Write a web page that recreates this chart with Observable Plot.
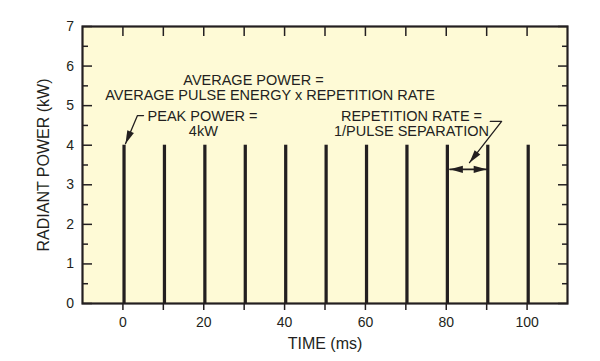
<!DOCTYPE html>
<html><head><meta charset="utf-8">
<script src="https://cdn.jsdelivr.net/npm/d3@7"></script>
<script src="https://cdn.jsdelivr.net/npm/@observablehq/plot@0.6"></script>
<style>html,body{margin:0;padding:0;background:#fff}#chart svg{display:block}</style>
</head><body><div id="chart"></div>
<script>
// ---- data ----
const pulseTimes = [0, 10, 20, 30, 40, 50, 60, 70, 80, 90, 100];   // ms
const peakPower = 4;                                              // kW
const pulseWidth = 0.8;                                           // ms
const yTicks = [0, 1, 2, 3, 4, 5, 6, 7];
const yMinorTicks = [0.5, 1.5, 2.5, 3.5, 4.5, 5.5, 6.5];
const xTicks = [0, 10, 20, 30, 40, 50, 60, 70, 80, 90, 100];
const xTickLabels = [0, 20, 40, 60, 80, 100];
const noteText = [
  "AVERAGE POWER =",
  "AVERAGE PULSE ENERGY x REPETITION RATE",
  "PEAK POWER =",
  "4kW",
  "REPETITION RATE =",
  "1/PULSE SEPARATION"
];
const noteX = [32.3, 36.4, 19.7, 19.9, 71.4, 71.4];
const noteY = [5.64, 5.26, 4.73, 4.35, 4.73, 4.35];
const peakArrowX = [5.1, 3.6, 0.64];
const peakArrowY = [4.75, 4.75, 4.04];
const repArrowX = [90.9, 93.7, 85.75];
const repArrowY = [4.60, 4.60, 3.56];
const sepArrowX = [80.9, 90.0];
const sepArrowY = [3.39, 3.39];

// ---- layout / style ----
const W = 600, H = 361;
const mL = 82, mR = 33, mT = 26, mB = 58;
const xDom = [-10, 110], yDom = [0, 7];
const ink = "#231f20";
const bg = "#fefad6";
const font = "'Liberation Sans', Arial, Helvetica, sans-serif";

const kx = (W - mL - mR) / (xDom[1] - xDom[0]);
const ky = (H - mT - mB) / (yDom[1] - yDom[0]);

const pulses = pulseTimes.map(t => ({t, p: peakPower}));
const notes = noteText.map((text, i) => ({text, x: noteX[i], y: noteY[i]}));
const toPts = (xs, ys) => xs.map((x, i) => ({x, y: ys[i]}));
const peakArrow = toPts(peakArrowX, peakArrowY);
const repArrow = toPts(repArrowX, repArrowY);
const sepArrow = toPts(sepArrowX, sepArrowY);

function head(from, to) {
  const dx = (to.x - from.x) * kx, dy = -(to.y - from.y) * ky;
  const n = Math.hypot(dx, dy);
  return {x: to.x, y: to.y, angle: Math.atan2(dx / n, -dy / n) * 180 / Math.PI};
}
const heads = [
  head(peakArrow[1], peakArrow[2]),
  head(repArrow[1], repArrow[2]),
  head(sepArrow[1], sepArrow[0]),
  head(sepArrow[0], sepArrow[1])
];
const arrowHead = {
  draw(ctx) { const L = 13, w = 3.6; ctx.moveTo(0, 0); ctx.lineTo(w, L); ctx.lineTo(-w, L); ctx.closePath(); }
};

const blank = () => "";

const chart = Plot.plot({
  width: W, height: H,
  marginLeft: mL, marginRight: mR, marginTop: mT, marginBottom: mB,
  x: {domain: xDom, label: null},
  y: {domain: yDom, label: null},
  style: {fontFamily: font, color: ink, background: "#fff"},
  marks: [
    Plot.frame({fill: bg, stroke: null}),
    Plot.rectY(pulses, {x1: d => d.t, x2: d => d.t + pulseWidth, y1: 0, y2: "p", fill: ink}),
    // axes
    Plot.axisY(yTicks, {anchor: "left", tickSize: -10, tickPadding: 18.5, fontSize: 14, stroke: ink, fill: ink, strokeWidth: 1.5, label: null}),
    Plot.axisY(yMinorTicks, {anchor: "left", tickSize: -6, tickFormat: blank, stroke: ink, strokeWidth: 1.5, label: null}),
    Plot.axisY(yTicks, {anchor: "right", tickSize: -10, tickFormat: blank, stroke: ink, strokeWidth: 1.5, label: null}),
    Plot.axisY(yMinorTicks, {anchor: "right", tickSize: -6, tickFormat: blank, stroke: ink, strokeWidth: 1.5, label: null}),
    Plot.axisX(xTicks, {anchor: "top", tickSize: -9, tickFormat: blank, stroke: ink, strokeWidth: 1.5, label: null}),
    Plot.axisX(xTicks, {anchor: "bottom", tickSize: 7, tickFormat: blank, stroke: ink, strokeWidth: 1.5, label: null}),
    Plot.axisX(xTickLabels, {anchor: "bottom", tickSize: 0, tickPadding: 14, fontSize: 14, fill: ink, label: null}),
    // axis titles
    Plot.text(["RADIANT POWER (kW)"], {frameAnchor: "left", dx: -38.5, rotate: -90, textAnchor: "middle", lineAnchor: "middle", fontSize: 16, fill: ink, text: d => d}),
    Plot.text(["TIME (ms)"], {frameAnchor: "bottom", dy: 40, textAnchor: "middle", lineAnchor: "middle", fontSize: 16, fill: ink, text: d => d}),
    // annotations
    Plot.text(notes, {x: "x", y: "y", text: "text", fontSize: 14.5, fill: ink}),
    Plot.line(peakArrow, {x: "x", y: "y", stroke: ink, strokeWidth: 1.3, curve: "linear"}),
    Plot.line(repArrow, {x: "x", y: "y", stroke: ink, strokeWidth: 1.3, curve: "linear"}),
    Plot.line(sepArrow, {x: "x", y: "y", stroke: ink, strokeWidth: 1.6}),
    Plot.dot(heads, {x: "x", y: "y", rotate: "angle", symbol: arrowHead, fill: ink, stroke: "none", r: 5}),
    Plot.frame({stroke: ink, strokeWidth: 2.2})
  ]
});
document.getElementById("chart").appendChild(chart);
</script>
</body></html>
